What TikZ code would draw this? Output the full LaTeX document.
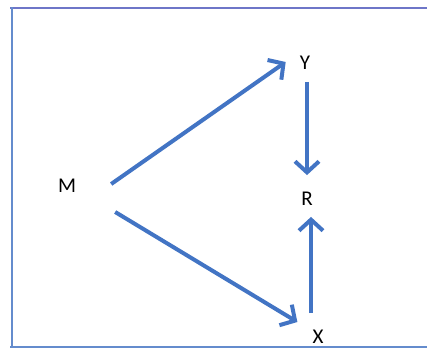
\documentclass[tikz,border=0pt]{standalone}
\usepackage{fontspec}
\setmainfont{Carlito}
\usetikzlibrary{arrows.meta}
\definecolor{arrowblue}{RGB}{66,116,196}
\definecolor{frametop}{RGB}{110,118,200}
\definecolor{frameside}{RGB}{100,140,205}
\tikzset{
  lbl/.style={inner sep=0pt, font=\fontsize{21}{23}\selectfont, text=black},
  arr/.style={draw=arrowblue, line width=4pt, -{Straight Barb[length=11pt,width=24pt]}},
  frameline/.style={line width=2pt}
}
\begin{document}
\begin{tikzpicture}[x=1pt,y=-1pt]
\useasboundingbox (0,0) rectangle (427,349);
\fill[white] (0,0) rectangle (427,349);
% frame
\draw[frameline, draw=frametop] (10,7.5) -- (427,7.5);
\draw[frameline, draw=frameside] (11.5,7) -- (11.5,348);
\draw[frameline, draw=frameside] (10,347) -- (427,347);
% nodes
\node[lbl] (M) at (67,186) {M};
\node[lbl] (Y) at (305,63) {Y};
\node[lbl] (R) at (307,199) {R};
\node[lbl] (X) at (318,337) {X};
% connectors
\draw[arr] ([shift={(35,-2)}]M.east) -- ([shift={(-14,-1)}]Y.west);
\draw[arr] ([shift={(39,26)}]M.east) -- ([shift={(-15,-15)}]X.west);
\draw[arr] ([shift={(2,12)}]Y.south) -- ([shift={(0,-17)}]R.north);
\draw[arr] ([shift={(-7,-17)}]X.north) -- ([shift={(4,11)}]R.south);
\end{tikzpicture}
\end{document}
